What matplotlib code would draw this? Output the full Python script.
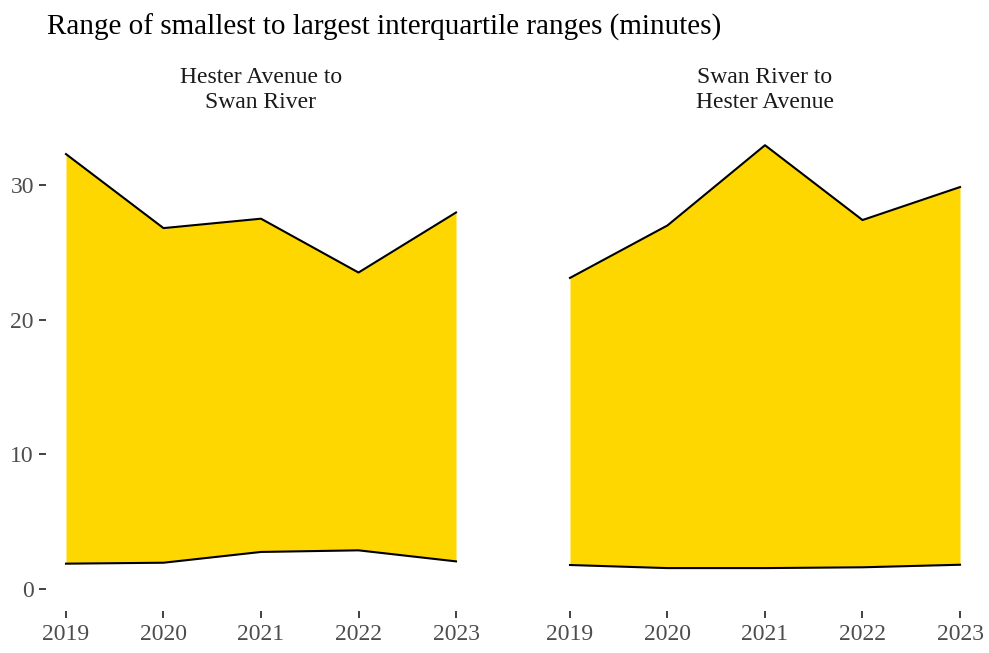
import numpy as np
import matplotlib
matplotlib.use("Agg")
import matplotlib.pyplot as plt

plt.rcParams["font.family"] = ["Liberation Serif", "DejaVu Serif"]

years = [2019, 2020, 2021, 2022, 2023]
panels = ["Hester Avenue to\nSwan River", "Swan River to\nHester Avenue"]

# smallest and largest interquartile range per year (minutes)
hester_to_swan_low = [1.87, 1.94, 2.74, 2.86, 2.04]
hester_to_swan_high = [32.3, 26.8, 27.5, 23.5, 27.96]
swan_to_hester_low = [1.77, 1.54, 1.54, 1.60, 1.79]
swan_to_hester_high = [23.1, 27.0, 32.96, 27.4, 29.85]

lows = [hester_to_swan_low, swan_to_hester_low]
highs = [hester_to_swan_high, swan_to_hester_high]

W, H = 989, 653
fig = plt.figure(figsize=(W / 100, H / 100), dpi=100)
fig.text(47 / W, 1 - 27 / H, "Range of smallest to largest interquartile ranges (minutes)",
         fontsize=21, ha="left", va="center", color="black")

lefts = [0.047, 0.5566]
ymax = max(max(h) for h in highs)
pad = 0.05 * ymax
for i, (left, name) in enumerate(zip(lefts, panels)):
    ax = fig.add_axes([left, 0.0643, 0.4338, 0.7473])
    ax.fill_between(years, lows[i], highs[i], color="#FFD700", lw=0)
    ax.plot(years, highs[i], color="black", lw=1.5)
    ax.plot(years, lows[i], color="black", lw=1.5)
    ax.set_xlim(2019 - 0.2, 2023 + 0.2)
    ax.set_ylim(-pad, ymax + pad)
    ax.set_xticks(years)
    ax.set_xticklabels([str(y) for y in years])
    for s in ax.spines.values():
        s.set_visible(False)
    ax.tick_params(axis="both", labelsize=17, labelcolor="#4D4D4D", color="#333333",
                   length=5, width=1.3, pad=4)
    if i == 0:
        ax.set_yticks([0, 10, 20, 30])
    else:
        ax.set_yticks([])
    cx = left + 0.4338 / 2
    fig.text(cx, 1 - 90 / H, name, fontsize=17, color="#1A1A1A",
             ha="center", va="center", linespacing=1.25)

fig.savefig("out.png", dpi=100)
